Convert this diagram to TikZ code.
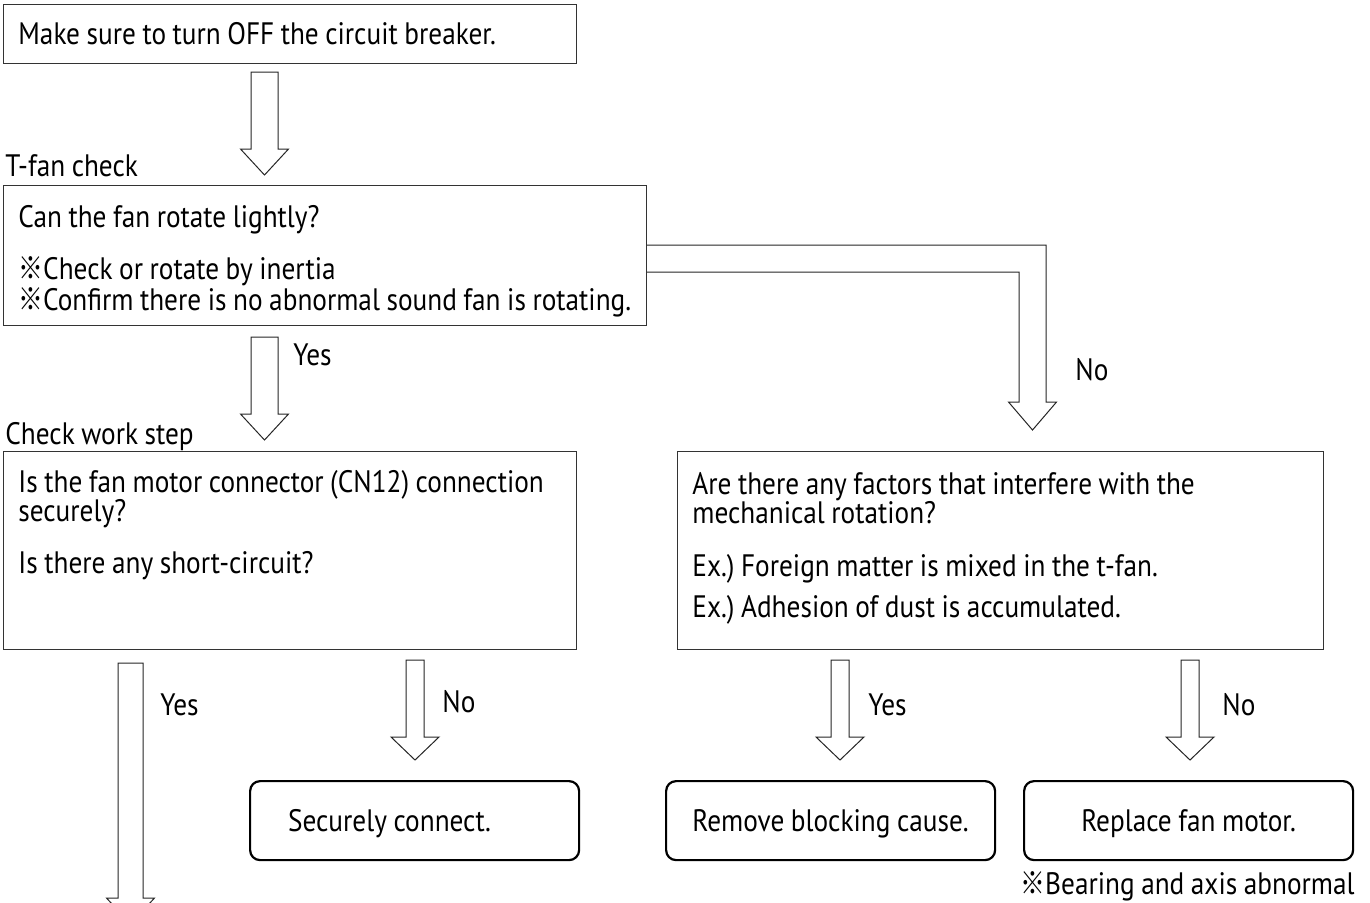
\documentclass[tikz,border=0pt]{standalone}
\usepackage{fontspec}
\setmainfont{PT Sans}[FakeStretch=0.88, WordSpace=0.9]
\newfontfamily\cjkfont{Noto Sans CJK JP}[FakeStretch=0.8]
\newcommand{\kome}{{\cjkfont ※}}

\tikzset{
  stepbox/.style={draw=black!80, line width=0.55pt, anchor=north west, inner sep=0pt},
  endbox/.style={draw=black, line width=1.1pt, rounded corners=5pt, anchor=north west,
    minimum width=164.5pt, minimum height=39.5pt, inner ysep=0pt, inner xsep=4pt,
    text width=156.5pt, align=flush center, text height=11pt, text depth=0pt},
  txt/.style={anchor=base west, inner sep=0pt, text width=#1, align=flush left},
  txt/.default=330pt,
  bigarrow/.style={draw=black!85, line width=0.5pt, fill=white},
  pics/downarrow/.style n args={3}{code={%
    \path[bigarrow] (-#2,0) -- (-#2,#1-#3) -- (-24,#1-#3) -- (0,#1)
      -- (24,#1-#3) -- (#2,#1-#3) -- (#2,0) -- cycle;
  }},
}

\begin{document}
\begin{tikzpicture}[x=0.5pt, y=-0.5pt, font=\fontsize{15.5}{14.5}\selectfont\frenchspacing]
\path[clip] (0,0) rectangle (1370,902);

% first step
\node[stepbox, minimum width=286.5pt, minimum height=29.5pt] (breaker) at (3,4) {};
\node[txt] (breakertxt) at (18,44) {Make sure to turn OFF the circuit breaker.};
\pic at (264.5,72) {downarrow={103}{13.5}{26}};

% t-fan check
\node[txt] (fanlabel) at (5,176) {T-fan check};
\node[stepbox, minimum width=321.5pt, minimum height=70pt] (fancheck) at (3,185) {};
\node[txt] (fantxt) at (18,227) {Can the fan rotate lightly?\\[10.5pt]
  \kome Check or rotate by inertia\\
  \kome Confirm there is no abnormal sound fan is rotating.};

\pic at (264.5,337) {downarrow={103}{13.5}{26}};
\node[txt=40pt] (yesa) at (293,365) {Yes};

% No branch, bent arrow
\path[bigarrow] (fancheck.east |- 0,245) -- (1046,245) -- (1046,402) -- (1056.5,402)
  -- (1032.5,430) -- (1008.5,402) -- (1019,402) -- (1019,272) -- (fancheck.east |- 0,272);
\node[txt=40pt] (noa) at (1075,380) {No};

% check work step
\node[txt] (worklabel) at (5,444) {Check work step};
\node[stepbox, minimum width=286.5pt, minimum height=99pt] (connector) at (3,451) {};
\node[txt] (connectortxt) at (18,492) {Is the fan motor connector (CN12) connection\\
  securely?\\[11.5pt]
  Is there any short-circuit?};

% mechanical rotation
\node[stepbox, minimum width=323pt, minimum height=99pt] (rotation) at (677,451) {};
\node[txt] (rotationtxt) at (692,494) {Are there any factors that interfere with the\\
  mechanical rotation?\\[12pt]
  Ex.) Foreign matter is mixed in the t-fan.\\[6pt]
  Ex.) Adhesion of dust is accumulated.};

% answers
\pic at (130.5,663) {downarrow={261}{12.5}{26}};
\node[txt=40pt] (yesb) at (160,715) {Yes};

\pic at (415,660) {downarrow={100}{9}{23}};
\node[txt=40pt] (nob) at (442,712) {No};
\node[endbox, inner xsep=19pt, text width=126.5pt, align=flush left] (connect) at (249,780) {Securely connect.};

\pic at (840,660) {downarrow={100}{9}{23}};
\node[txt=40pt] (yesc) at (868,715) {Yes};
\node[endbox] (blocking) at (665,780) {Remove blocking cause.};

\pic at (1190,660) {downarrow={100}{9}{23}};
\node[txt=40pt] (noc) at (1222,715) {No};
\node[endbox] (replace) at (1023,780) {Replace fan motor.};
\node[anchor=base east, inner sep=0pt] (bearing) at (1355,894) {\kome Bearing and axis abnormal};
\end{tikzpicture}
\end{document}
